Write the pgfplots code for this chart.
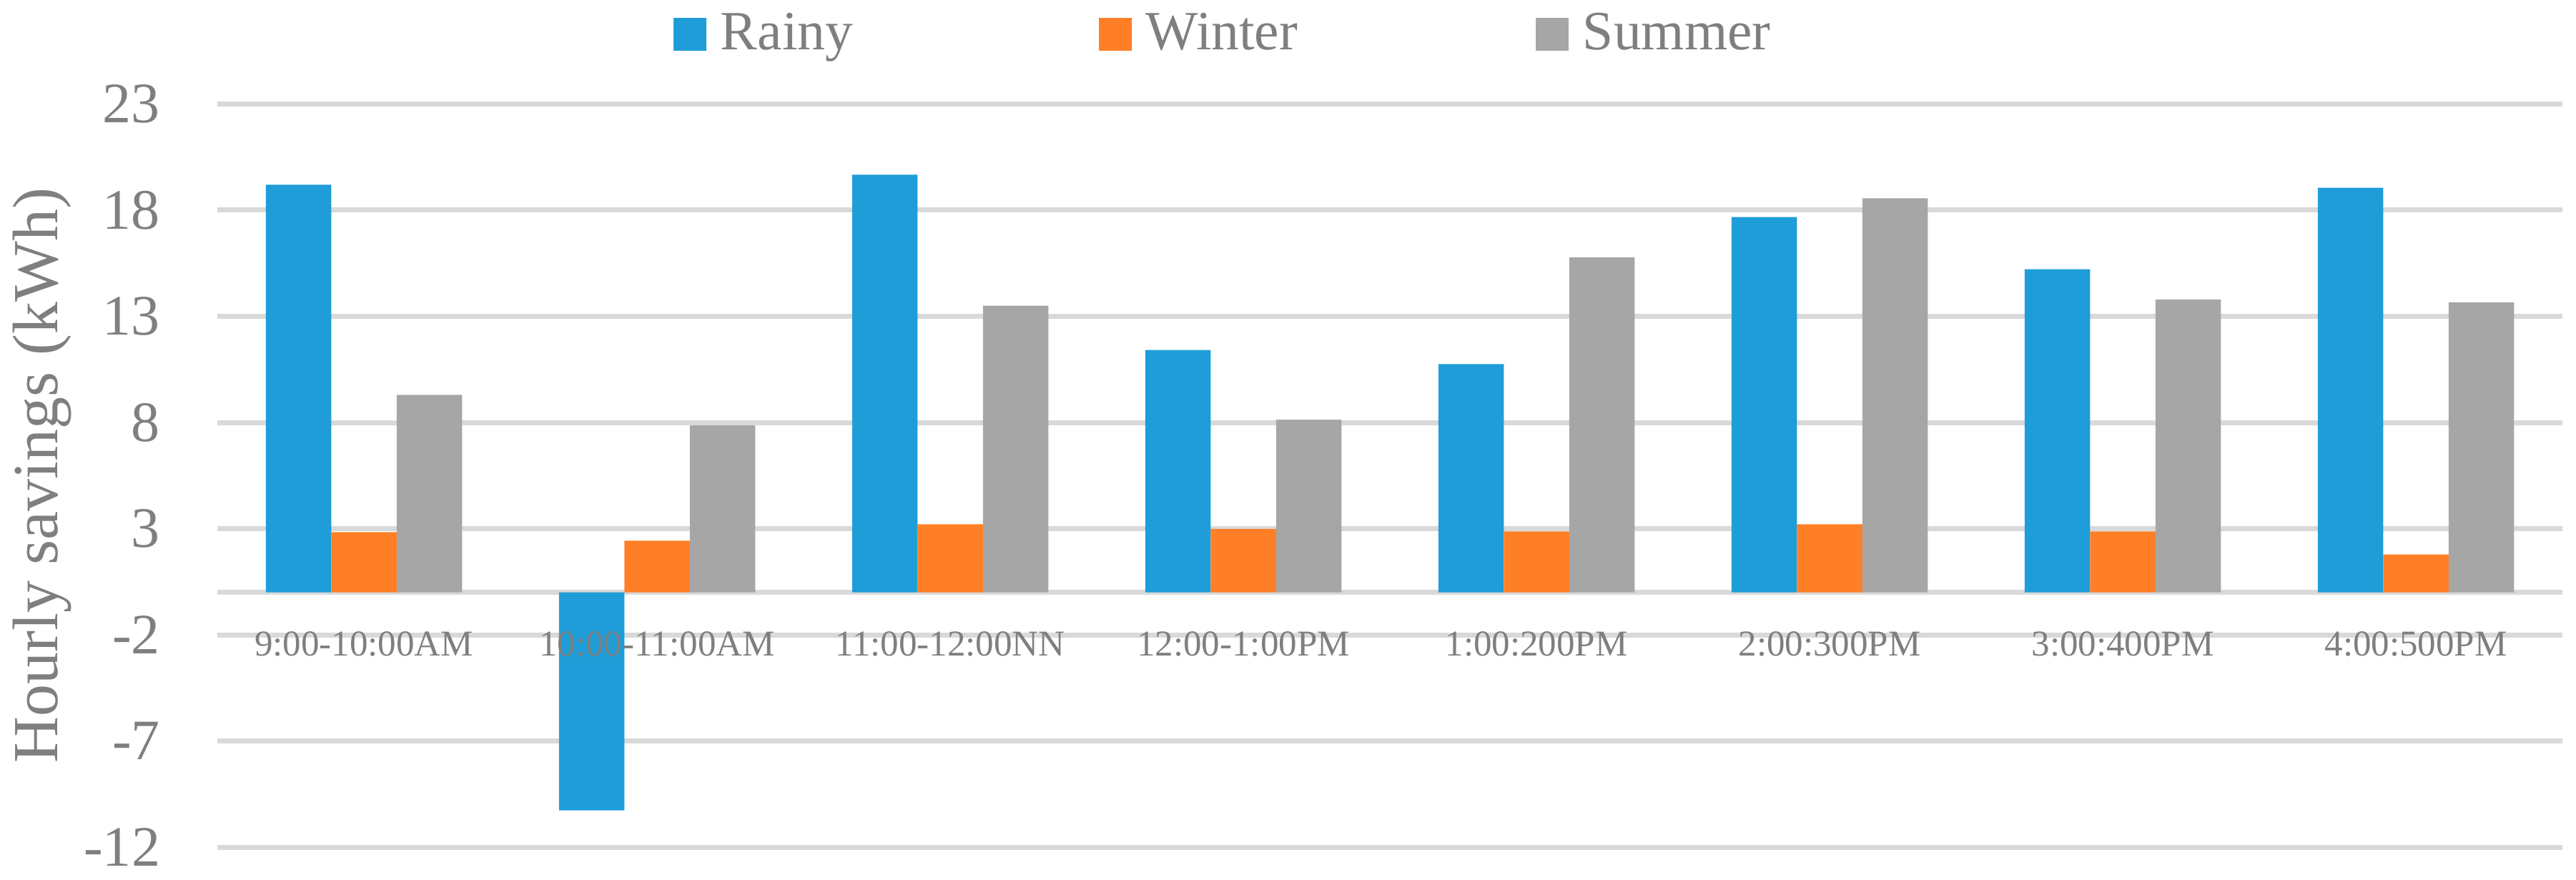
\documentclass[border=0pt]{standalone}
\usepackage{pgfplots}
\pgfplotsset{compat=1.18}
\usepackage{fontspec}
\setmainfont{Liberation Serif}
\definecolor{rainy}{RGB}{30,157,216}
\definecolor{winter}{RGB}{255,127,39}
\definecolor{summer}{RGB}{166,166,166}
\definecolor{gridc}{RGB}{217,217,217}
\definecolor{txt}{RGB}{127,127,127}
\pgfplotsset{
  layers/mylayers/.define layer set={axis background,axis grid,axis ticks,main,axis lines,axis tick labels,axis descriptions,axis foreground}{},
}
\begin{document}
\begin{tikzpicture}
\begin{axis}[
  set layers=mylayers,
  scale only axis, width=656pt, height=207.9pt,
  xmin=-0.5, xmax=7.5, ymin=-12, ymax=23,
  ybar=0pt, bar width=18.3pt,
  axis x line*=middle, axis y line*=left,
  x axis line style={draw=gridc, line width=1.4pt},
  y axis line style={draw=none},
  ymajorgrids, grid style={draw=gridc, line width=1.4pt},
  major tick length=0pt,
  xtick={0,...,7},
  xticklabels={9:00-10:00AM, 10:00-11:00AM, 11:00-12:00NN, 12:00-1:00PM, 1:00:200PM, 2:00:300PM, 3:00:400PM, 4:00:500PM},
  ytick={-12,-7,-2,3,8,13,18,23},
  yticklabels={-12,-7,-2,3,8,13,18,23},
  xticklabel style={font=\fontsize{10.2}{12}\selectfont, text=txt, inner sep=0pt, anchor=north, yshift=-10.7pt, /pgfplots/on layer=axis foreground},
  yticklabel style={font=\fontsize{16}{19}\selectfont, text=txt, inner sep=0pt, anchor=east, xshift=-15.8pt},
  ylabel={Hourly savings (kWh)},
  every axis y label/.style={at={(rel axis cs:0,0.5)}, anchor=center, rotate=90, yshift=49pt, font=\fontsize{18}{21}\selectfont, text=txt},
  legend columns=3,
  legend style={draw=none, fill=none, at={(0.1945,1.0938)}, anchor=west, inner sep=0pt, outer sep=0pt, nodes={inner sep=0pt, text=txt}, font=\fontsize{15.5}{18}\selectfont, /tikz/every odd column/.append style={column sep=4pt}, /tikz/every even column/.append style={column sep=0pt}},
  every axis plot post/.append style={legend image code/.code={\fill[##1] (0pt,-4.6pt) rectangle (9.2pt,4.6pt);}},
]
\addplot[fill=rainy, draw=none] coordinates {(0,19.20) (1,-10.27) (2,19.67) (3,11.41) (4,10.75) (5,17.68) (6,15.22) (7,19.06)};
\addplot[fill=winter, draw=none] coordinates {(0,2.84) (1,2.43) (2,3.21) (3,2.99) (4,2.87) (5,3.21) (6,2.87) (7,1.78)};
\addplot[fill=summer, draw=none] coordinates {(0,9.30) (1,7.86) (2,13.50) (3,8.13) (4,15.78) (5,18.56) (6,13.79) (7,13.66)};
\legend{\makebox[105.8pt][l]{Rainy}, \makebox[109pt][l]{Winter}, Summer}
\end{axis}
\pgfresetboundingbox
\path ([xshift=-60.8pt,yshift=-9pt]current axis.south west) rectangle ([xshift=3.8pt,yshift=29.1pt]current axis.north east);
\end{tikzpicture}
\end{document}
